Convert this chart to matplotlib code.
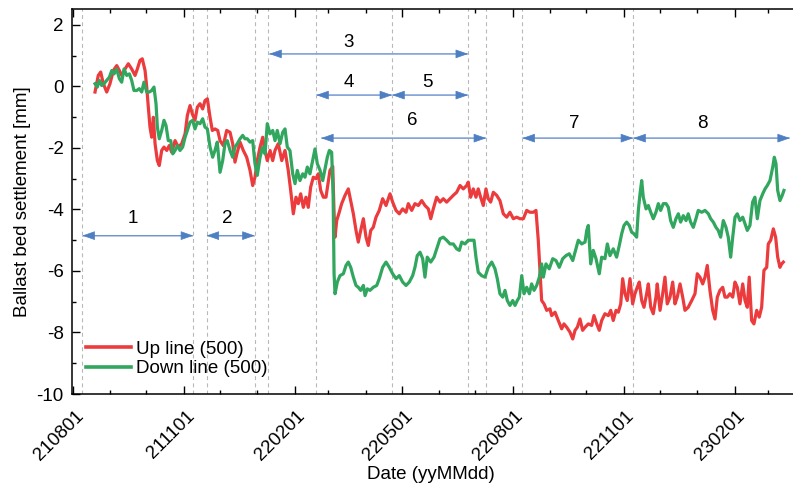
import matplotlib
matplotlib.use('Agg')
import matplotlib.pyplot as plt
import matplotlib.dates as mdates
import matplotlib.transforms as mtransforms
from matplotlib.patches import FancyArrowPatch
from matplotlib.ticker import MultipleLocator
import pandas as pd

plt.rcParams['font.family'] = ['Liberation Sans', 'DejaVu Sans']
plt.rcParams['axes.unicode_minus'] = False

START = '2021-08-01'

# ---- Up line (500): days since START and settlement [mm]
up_days = [
    18.5, 21.2, 23.2, 25.4, 28.2, 30.9, 33.7, 36.5, 38.7, 40.6,
    43.4, 46.1, 48.9, 51.7, 53.6, 55.8, 57.7, 60.0, 61.4, 62.7,
    64.1, 65.5, 66.9, 68.3, 70.2, 71.8, 73.8, 75.7, 78.0, 80.1,
    82.1, 84.9, 87.6, 90.4, 93.2, 95.1, 97.3, 99.2, 101.4, 103.4,
    105.6, 107.8, 109.7, 111.7, 113.9, 115.8, 118.0, 120.3, 122.2, 124.9,
    127.7, 130.5, 132.7, 134.6, 136.5, 138.8, 141.5, 144.3, 147.1, 149.3,
    151.2, 153.1, 155.4, 157.6, 159.5, 161.4, 163.7, 165.9, 167.8, 170.5,
    173.4, 176.1, 178.8, 180.8, 183.0, 185.2, 187.1, 189.1, 191.3, 193.5,
    195.4, 197.4, 199.6, 201.8, 203.7, 205.7, 207.9, 210.1, 212.0, 213.4,
    215.7, 216.7, 217.6, 219.0, 221.1, 223.1, 225.9, 228.6, 230.6, 232.8,
    235.0, 236.9, 238.9, 241.1, 243.3, 245.2, 247.2, 249.3, 251.6, 254.3,
    257.1, 259.9, 263.2, 265.4, 268.2, 270.9, 273.7, 276.5, 278.4, 281.2,
    283.9, 286.7, 289.5, 292.2, 295.0, 297.0, 299.1, 301.9, 304.7, 307.4,
    310.2, 313.0, 315.7, 318.5, 321.3, 324.0, 326.8, 328.1, 330.1, 332.3,
    334.5, 336.4, 338.4, 340.6, 342.8, 344.7, 346.7, 348.9, 351.7, 354.4,
    357.2, 360.0, 362.7, 365.5, 368.3, 371.0, 373.8, 376.6, 379.3, 382.1,
    384.3, 386.2, 387.6, 389.0, 391.0, 393.2, 395.9, 397.3, 400.1, 402.8,
    405.6, 407.5, 409.8, 412.5, 414.8, 416.7, 418.6, 420.8, 423.0, 425.0,
    427.7, 430.5, 432.4, 434.7, 436.8, 438.8, 441.5, 444.3, 446.3, 448.4,
    450.7, 452.6, 454.6, 456.2, 458.1, 460.0, 462.3, 464.5, 466.4, 468.3,
    470.0, 472.0, 473.9, 476.1, 477.5, 479.5, 481.6, 483.8, 484.9, 487.2,
    489.4, 491.3, 493.2, 495.5, 497.7, 499.6, 501.5, 503.8, 506.0, 507.9,
    510.6, 513.5, 516.2, 518.1, 520.3, 522.6, 524.5, 526.4, 528.6, 530.9,
    532.8, 534.7, 536.9, 539.2, 541.1, 543.0, 545.2, 547.5, 549.4, 551.3,
    553.5, 555.8, 557.7, 559.6, 561.2, 563.2, 565.1, 567.4, 569.5, 571.5,
    573.4, 575.7, 577.0, 579.0, 581.2, 583.1, 584.8, 586.7, 588.1, 589.5,
]
up_vals = [
    -0.18, 0.36, 0.47, 0.09, -0.18, 0.09, 0.52, 0.68, 0.52, 0.36,
    0.57, 0.74, 0.57, 0.36, 0.57, 0.85, 0.90, 0.52, -0.02, -0.67,
    -1.32, -1.65, -1.00, -1.86, -2.41, -2.57, -2.08, -1.97, -2.08, -1.92,
    -2.14, -1.76, -1.97, -1.86, -1.54, -0.94, -0.62, -0.89, -1.10, -0.67,
    -0.56, -0.73, -0.46, -0.40, -1.00, -1.43, -1.38, -1.43, -1.76, -1.92,
    -1.43, -1.49, -1.86, -2.46, -2.14, -1.81, -2.08, -2.30, -2.73, -3.22,
    -2.95, -2.41, -1.97, -1.65, -2.08, -2.41, -2.08, -2.41, -2.08, -1.86,
    -2.41, -2.08, -2.73, -3.38, -4.14, -3.60, -3.81, -3.49, -3.93, -3.60,
    -3.93, -3.27, -2.95, -3.00, -2.84, -3.38, -3.60, -3.60, -3.11, -2.73,
    -2.60, -4.00, -4.90, -4.36, -4.09, -3.81, -3.54, -3.33, -3.71, -4.14,
    -4.68, -5.06, -4.68, -4.30, -4.90, -5.17, -4.68, -4.58, -4.25, -4.03,
    -3.65, -3.87, -3.49, -3.76, -4.03, -4.14, -3.98, -4.09, -3.81, -4.03,
    -3.81, -3.87, -3.71, -3.87, -3.98, -4.30, -3.98, -3.60, -3.76, -3.65,
    -3.76, -3.65, -3.54, -3.44, -3.22, -3.33, -3.22, -3.11, -3.60, -3.33,
    -3.60, -3.33, -3.60, -3.87, -3.33, -3.65, -3.76, -3.44, -3.54, -3.71,
    -4.14, -4.25, -4.09, -4.30, -4.25, -4.30, -4.30, -4.03, -4.09, -4.09,
    -4.03, -5.00, -5.98, -6.96, -7.07, -7.28, -7.23, -7.45, -7.34, -7.61,
    -7.88, -7.72, -7.83, -7.99, -8.21, -7.93, -7.83, -7.56, -7.93, -7.83,
    -7.72, -7.77, -7.45, -7.72, -7.93, -7.61, -7.39, -7.45, -7.28, -7.61,
    -7.28, -7.34, -7.07, -6.25, -6.74, -6.96, -6.25, -7.07, -6.74, -6.53,
    -6.36, -6.96, -7.18, -6.74, -6.42, -7.18, -7.39, -6.85, -6.42, -7.28,
    -6.74, -6.20, -7.07, -6.85, -6.36, -7.07, -6.85, -6.42, -6.85, -7.28,
    -7.18, -6.96, -6.74, -6.09, -6.20, -6.42, -6.20, -5.82, -6.63, -7.28,
    -7.56, -6.85, -6.63, -6.53, -6.85, -6.85, -6.74, -6.85, -6.36, -6.53,
    -7.07, -6.42, -6.96, -7.18, -6.20, -7.61, -7.72, -7.28, -7.50, -7.18,
    -5.98, -5.88, -5.12, -5.00, -4.63, -4.90, -5.55, -5.88, -5.77, -5.71,
]

# ---- Down line (500)
down_days = [
    18.5, 20.4, 22.1, 24.1, 26.0, 28.2, 30.4, 32.4, 34.3, 36.5,
    38.7, 40.6, 42.6, 44.8, 47.0, 48.9, 50.8, 53.1, 55.2, 57.2,
    59.1, 61.4, 63.5, 65.5, 67.4, 69.1, 70.2, 71.8, 73.8, 75.7,
    77.4, 79.3, 81.3, 83.0, 84.9, 86.8, 89.0, 91.2, 93.2, 95.1,
    97.3, 99.5, 101.4, 103.4, 105.6, 107.8, 109.7, 111.7, 113.9, 116.1,
    118.0, 119.9, 122.2, 124.4, 126.3, 128.2, 130.5, 132.7, 134.6, 136.5,
    138.8, 141.0, 142.9, 144.8, 147.1, 149.3, 151.2, 153.1, 155.4, 157.6,
    159.5, 161.4, 163.7, 165.9, 167.8, 169.7, 172.0, 174.2, 176.1, 178.0,
    180.2, 182.5, 184.4, 186.3, 188.5, 190.8, 192.7, 194.6, 196.8, 199.0,
    201.0, 202.9, 205.2, 207.4, 209.3, 211.2, 212.9, 214.8, 216.0, 216.8,
    217.6, 219.5, 221.7, 224.5, 226.7, 228.6, 230.6, 232.8, 235.0, 236.9,
    238.9, 241.1, 242.5, 244.4, 246.6, 249.3, 252.2, 254.3, 257.1, 259.9,
    262.6, 265.4, 268.2, 270.9, 273.7, 276.5, 279.2, 282.0, 283.9, 285.8,
    288.1, 290.3, 292.2, 294.1, 297.0, 299.7, 302.4, 304.7, 307.4, 310.2,
    313.0, 315.7, 318.5, 320.7, 322.7, 325.4, 328.1, 331.0, 332.9, 334.5,
    336.4, 339.2, 342.0, 344.7, 347.6, 350.3, 352.2, 354.4, 356.7, 358.6,
    360.5, 362.7, 365.0, 366.9, 368.8, 370.5, 372.5, 374.4, 376.6, 378.8,
    380.7, 382.7, 384.9, 387.1, 389.0, 390.4, 392.6, 395.3, 398.2, 400.9,
    403.6, 406.5, 409.2, 411.9, 414.8, 417.5, 419.4, 422.2, 425.0, 426.4,
    427.7, 429.7, 431.8, 434.1, 436.8, 438.8, 441.5, 443.5, 445.7, 448.4,
    451.2, 453.4, 455.4, 457.3, 459.5, 461.7, 463.7, 465.6, 467.8, 469.2,
    470.6, 472.0, 473.3, 475.6, 477.5, 479.5, 481.6, 483.8, 485.8, 487.7,
    489.9, 492.2, 494.1, 496.0, 498.2, 500.4, 502.4, 504.3, 506.5, 508.8,
    510.6, 512.6, 514.8, 517.0, 518.9, 521.8, 524.5, 527.3, 529.2, 531.4,
    533.6, 535.5, 537.5, 539.7, 541.9, 543.8, 545.8, 547.5, 549.4, 551.3,
    553.5, 555.8, 557.7, 559.6, 561.8, 564.0, 565.9, 567.9, 570.1, 572.4,
    574.3, 576.2, 578.4, 580.7, 582.0, 583.4, 584.8, 586.7, 588.6, 590.0,
]
down_vals = [
    0.09, -0.02, 0.20, 0.03, 0.09, 0.20, 0.30, 0.52, 0.41, 0.57,
    0.25, 0.14, 0.57, 0.36, 0.41, 0.20, -0.13, -0.13, -0.07, -0.18,
    0.14, -0.18, -0.18, -0.13, -0.02, -0.56, -1.32, -1.70, -1.43, -1.10,
    -1.27, -1.76, -1.76, -2.19, -2.08, -1.92, -2.08, -1.97, -1.65, -1.43,
    -1.16, -1.10, -1.38, -1.16, -1.21, -1.05, -1.32, -1.38, -1.97, -2.30,
    -2.08, -1.81, -2.79, -2.41, -1.86, -1.76, -2.08, -2.30, -1.97, -1.86,
    -1.70, -1.59, -1.70, -1.70, -1.81, -1.76, -2.51, -2.89, -2.30, -1.97,
    -2.19, -1.21, -1.54, -1.43, -1.76, -1.43, -1.86, -1.49, -1.38, -1.97,
    -2.08, -2.84, -3.16, -2.73, -3.06, -2.84, -2.95, -2.62, -2.84, -2.41,
    -2.03, -2.51, -2.73, -3.06, -2.68, -2.30, -2.08, -2.14, -3.50, -6.09,
    -6.74, -6.36, -6.15, -6.09, -5.82, -5.71, -5.88, -6.20, -6.47, -6.53,
    -6.63, -6.47, -6.80, -6.58, -6.63, -6.53, -6.47, -6.25, -5.88, -5.71,
    -5.88, -6.09, -6.25, -6.15, -6.36, -6.47, -6.36, -6.15, -5.88, -5.50,
    -5.39, -5.60, -6.20, -5.55, -5.71, -5.55, -5.23, -4.95, -4.90, -5.00,
    -5.12, -5.12, -5.28, -5.33, -5.06, -5.12, -5.00, -5.00, -5.00, -5.55,
    -6.04, -6.15, -6.20, -5.88, -5.71, -5.93, -6.25, -6.74, -6.85, -6.63,
    -6.96, -7.12, -6.96, -7.12, -6.96, -6.85, -6.15, -6.74, -6.53, -6.74,
    -6.42, -6.63, -6.47, -6.20, -5.77, -6.20, -5.77, -5.93, -5.60, -5.66,
    -5.88, -5.60, -5.50, -5.44, -5.66, -5.28, -5.00, -5.12, -5.06, -4.68,
    -4.52, -5.77, -5.33, -5.60, -6.09, -5.55, -5.60, -5.12, -5.50, -5.28,
    -5.55, -5.17, -4.79, -4.52, -4.41, -4.52, -4.74, -4.79, -4.90, -4.03,
    -3.49, -3.06, -3.60, -3.98, -3.87, -4.09, -4.30, -4.09, -3.81, -4.03,
    -3.81, -3.81, -3.93, -4.36, -4.58, -4.30, -4.14, -4.41, -4.20, -4.36,
    -4.14, -4.41, -4.58, -4.30, -4.03, -4.09, -4.03, -4.14, -4.30, -4.41,
    -4.58, -4.68, -4.90, -4.36, -4.58, -4.90, -5.55, -4.90, -4.25, -4.14,
    -4.36, -4.25, -4.47, -4.68, -4.52, -3.76, -3.60, -4.30, -3.71, -3.49,
    -3.33, -3.22, -3.06, -2.62, -2.30, -2.51, -3.38, -3.71, -3.54, -3.38,
]

series_names = ['Up line (500)', 'Down line (500)']

# ---- period boundaries (dashed verticals) and period arrows
boundary_dates = ['2021-08-09', '2021-11-09', '2021-11-20', '2021-12-30',
                  '2022-01-10', '2022-02-19', '2022-04-23', '2022-06-25',
                  '2022-07-10', '2022-08-09', '2022-11-09']
period_labels = ['1', '2', '3', '4', '5', '6', '7', '8']
period_start = ['2021-08-09', '2021-11-20', '2022-01-11', '2022-02-19',
                '2022-04-23', '2022-02-23', '2022-08-09', '2022-11-09']
period_end = ['2021-11-09', '2021-12-30', '2022-06-25', '2022-04-23',
              '2022-06-25', '2022-07-10', '2022-11-09', '2023-03-19']
period_level = [-4.85, -4.85, 1.06, -0.28, -0.28, -1.68, -1.68, -1.68]
label_date = ['2021-09-20', '2021-12-07', '2022-03-18', '2022-03-18',
              '2022-05-22', '2022-05-10', '2022-09-21', '2023-01-05']
label_level = [-4.29, -4.29, 1.44, 0.14, 0.14, -1.10, -1.21, -1.21]

assert len(up_days) == len(up_vals)
assert len(down_days) == len(down_vals)

start = pd.Timestamp(START)
up_x = start + pd.to_timedelta(up_days, unit='D')
down_x = start + pd.to_timedelta(down_days, unit='D')

W, H = 793, 486
fig = plt.figure(figsize=(W / 100, H / 100), dpi=100)
ax = fig.add_axes([72 / W, (H - 394) / H, (796 - 72) / W, 385 / H])

RED = '#ec3b3d'
GREEN = '#31a65e'
FS = 13.5

for d in boundary_dates:
    ax.axvline(pd.Timestamp(d), color='#b8b8b8', lw=0.8, ls=(0, (3.5, 3)), zorder=1)

ax.plot(up_x, up_vals, color=RED, lw=2.3, label=series_names[0], zorder=3,
        solid_joinstyle='round')
ax.plot(down_x, down_vals, color=GREEN, lw=2.3, label=series_names[1], zorder=4,
        solid_joinstyle='round')

for lab, s, e, lev, ld, ll in zip(period_labels, period_start, period_end,
                                   period_level, label_date, label_level):
    xs = mdates.date2num(pd.Timestamp(s))
    xe = mdates.date2num(pd.Timestamp(e))
    ax.plot([xs, xe], [lev, lev], color='#b4c6e7', lw=1.3, zorder=2,
            solid_capstyle='butt')
    arr = FancyArrowPatch((xs, lev), (xe, lev),
                          arrowstyle='<|-|>,head_length=0.8,head_width=0.28',
                          mutation_scale=10, color='#4f7fc3', lw=0.5,
                          shrinkA=0, shrinkB=0, zorder=2)
    ax.add_patch(arr)
    ax.text(pd.Timestamp(ld), ll, lab, fontsize=FS, ha='center', va='center',
            color='black', zorder=5)

# axes limits
ax.set_xlim(start - pd.Timedelta(days=0.6), start + pd.Timedelta(days=600.0))
ax.set_ylim(-10, 2.52)

ax.xaxis.set_major_locator(mdates.MonthLocator(bymonth=[2, 5, 8, 11]))
ax.xaxis.set_minor_locator(mdates.MonthLocator())
ax.xaxis.set_major_formatter(mdates.DateFormatter('%y%m%d'))
ax.yaxis.set_major_locator(MultipleLocator(2))
ax.yaxis.set_minor_locator(MultipleLocator(1))

ax.tick_params(axis='both', which='both', direction='in', top=True, right=False,
               labelsize=FS, width=1.0, colors='black')
ax.tick_params(axis='both', which='major', length=6)
ax.tick_params(axis='both', which='minor', length=3)
ax.tick_params(axis='y', which='major', pad=6)
ax.tick_params(axis='x', which='major', pad=14)

for sp in ['left', 'bottom', 'top']:
    ax.spines[sp].set_linewidth(1.1)
ax.spines['right'].set_visible(False)

offset = mtransforms.ScaledTranslation(8 / 100, 0, fig.dpi_scale_trans)
for lbl in ax.get_xticklabels():
    lbl.set_rotation(45)
    lbl.set_ha('right')
    lbl.set_va('center')
    lbl.set_rotation_mode('anchor')
    lbl.set_transform(lbl.get_transform() + offset)

ax.set_xlabel('Date (yyMMdd)', fontsize=FS, va='center')
ax.xaxis.set_label_coords(0.496, -0.21)
ax.set_ylabel('Ballast bed settlement [mm]', fontsize=FS, labelpad=4)

leg = ax.legend(loc='lower left', bbox_to_anchor=(0.019, 0.043), frameon=False,
                fontsize=FS, handlelength=2.4, handletextpad=0.3,
                labelspacing=0.15, borderpad=0, borderaxespad=0)
for h in leg.get_lines():
    h.set_linewidth(2.6)

fig.savefig('out.png', dpi=100)
